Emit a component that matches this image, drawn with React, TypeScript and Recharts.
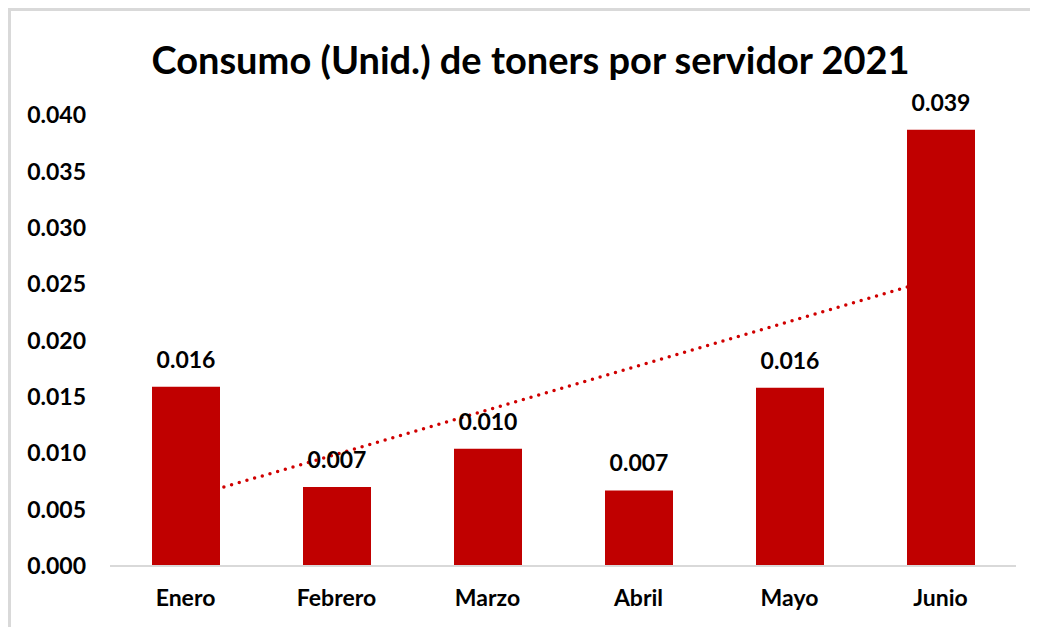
import React from 'react';
import { ComposedChart, Bar, Line, XAxis, YAxis, LabelList } from 'recharts';

const months = ['Enero', 'Febrero', 'Marzo', 'Abril', 'Mayo', 'Junio'];
const consumo = [0.0159, 0.007, 0.0104, 0.0067, 0.0158, 0.0387];
// linear trendline, ends (first and last category)
const trend = [0.006, null, null, null, null, 0.0256];
const yTicks = [0, 0.005, 0.01, 0.015, 0.02, 0.025, 0.03, 0.035, 0.04];

const data = months.map((m, i) => ({ month: m, consumo: consumo[i], trend: trend[i] }));

const FONT = 'Lato, "Open Sans", sans-serif';

export default function App() {
  return (
    <div
      style={{
        position: 'relative',
        width: 1042,
        height: 640,
        border: '3px solid #D9D9D9',
        borderRight: 'none',
        boxSizing: 'border-box',
        background: '#fff',
        fontFamily: FONT,
      }}
    >
      <div
        style={{
          position: 'absolute',
          left: 0,
          top: 26,
          width: 1039,
          textAlign: 'center',
          fontSize: 38,
          fontWeight: 700,
          color: '#000',
          lineHeight: '44px',
        }}
      >
        Consumo (Unid.) de toners por servidor 2021
      </div>
      <ComposedChart
        width={1028}
        height={620}
        data={data}
        margin={{ top: 104, right: 23, left: 0, bottom: 20 }}
      >
        <XAxis
          dataKey="month"
          axisLine={{ stroke: '#D9D9D9', strokeWidth: 2 }}
          tickLine={false}
          tickSize={0}
          tickMargin={24}
          height={45}
          tick={{ fill: '#000', fontSize: 23, fontWeight: 700, fontFamily: FONT }}
        />
        <YAxis
          domain={[0, 0.04]}
          ticks={yTicks}
          width={99}
          axisLine={false}
          tickLine={false}
          tickSize={0}
          tickMargin={24}
          tickFormatter={(v: number) => v.toFixed(3)}
          tick={{ fill: '#000', fontSize: 23, fontWeight: 700, fontFamily: FONT }}
        />
        <Line
          dataKey="trend"
          connectNulls
          stroke="#D00000"
          strokeWidth={3.5}
          strokeDasharray="0 8"
          strokeLinecap="round"
          dot={false}
          activeDot={false}
          isAnimationActive={false}
          zIndex={250}
        />
        <Bar dataKey="consumo" fill="#C00000" barSize={68} isAnimationActive={false}>
          <LabelList
            dataKey="consumo"
            position="top"
            offset={19}
            formatter={(v: number) => v.toFixed(3)}
            style={{ fill: '#000', fontSize: 23, fontWeight: 700, fontFamily: FONT }}
          />
        </Bar>
      </ComposedChart>
    </div>
  );
}
